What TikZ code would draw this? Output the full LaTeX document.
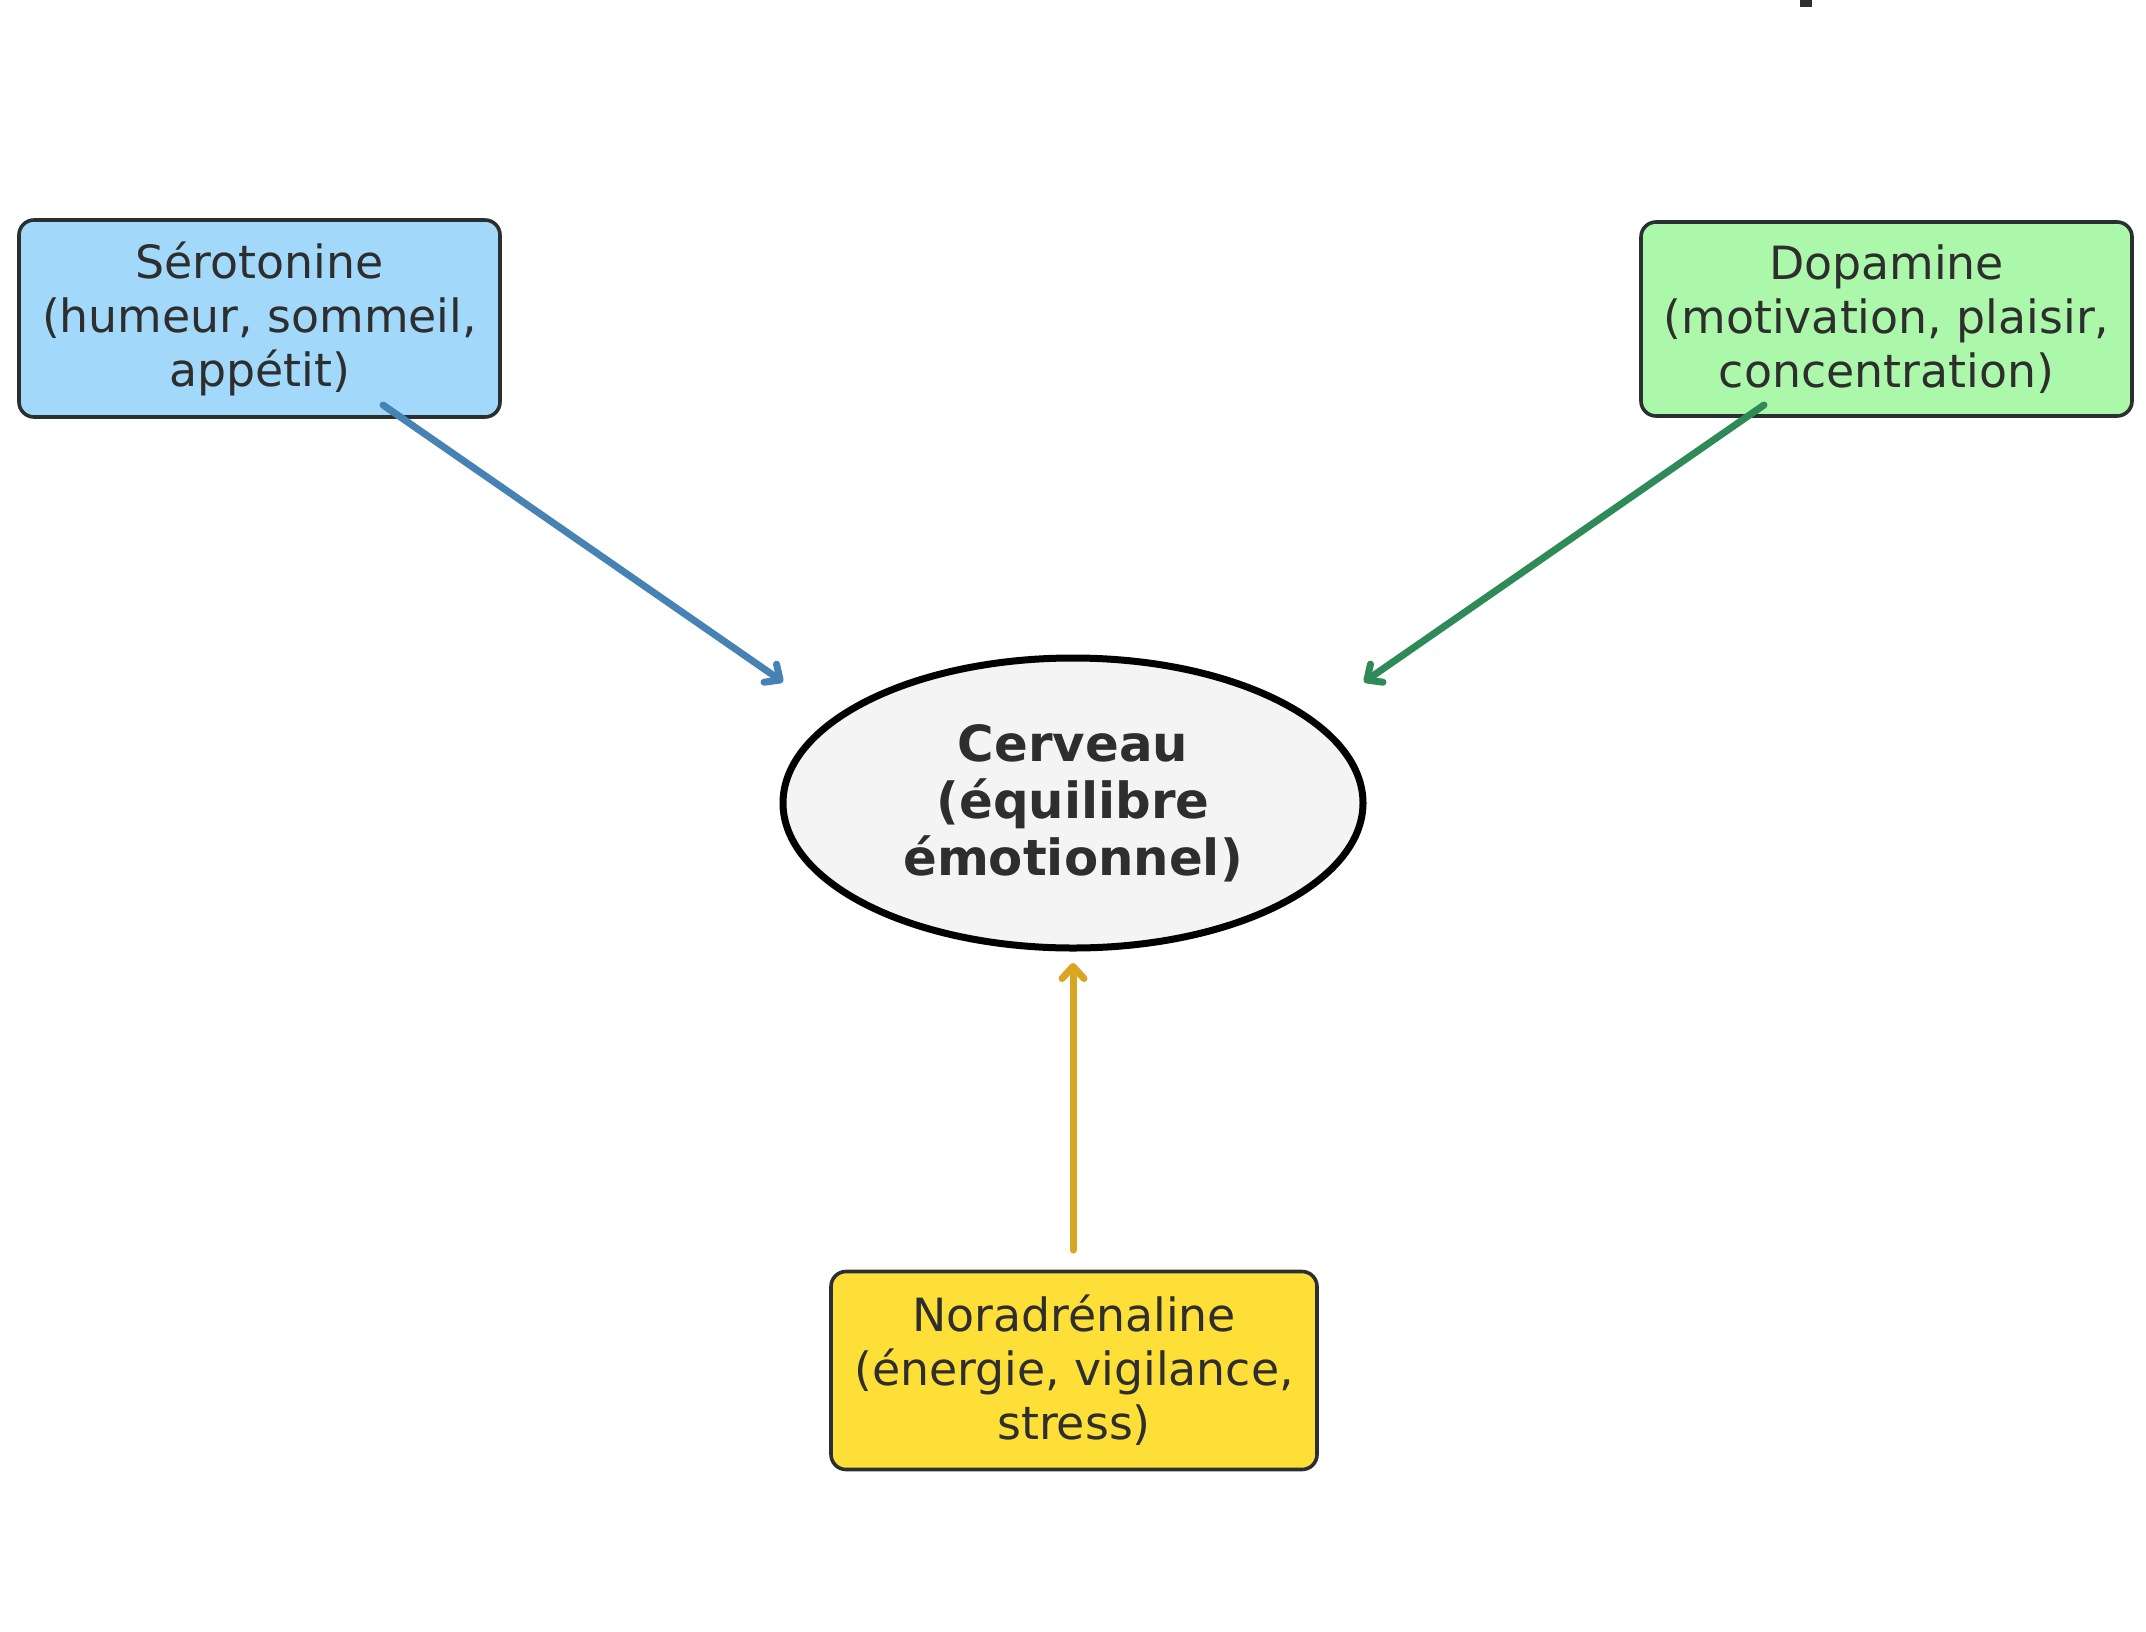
\documentclass[tikz,border=0pt]{standalone}
\usepackage{fontspec}
\setmainfont{DejaVu Sans}
\usetikzlibrary{arrows.meta,shapes.geometric}
\definecolor{txt}{HTML}{2E2E2E}
\definecolor{boxline}{HTML}{2A2F30}
\definecolor{serofill}{HTML}{A2D8F9}
\definecolor{dopafill}{HTML}{ACF8AA}
\definecolor{norafill}{HTML}{FDDF38}
\definecolor{brainfill}{HTML}{F4F4F4}
\definecolor{seroarrow}{HTML}{4682B4}
\definecolor{dopaarrow}{HTML}{2E8B57}
\definecolor{noraarrow}{HTML}{DAA520}
\begin{document}
\begin{tikzpicture}[x=0.5pt,y=-0.5pt,
  nbox/.style={draw=boxline, line width=1.8pt, rounded corners=7.5pt, align=center,
    text=txt, font=\fontsize{22.9}{27}\selectfont, inner sep=0pt},
  brain/.style={ellipse, draw=black, line width=3.5pt, fill=brainfill, align=center,
    text=txt, font=\fontsize{24.9}{28.5}\selectfont\bfseries, inner sep=0pt,
    minimum width=290pt, minimum height=145pt},
  link/.style={line width=3.5pt, line cap=round, line join=round,
    -{Straight Barb[length=6pt,width=11pt,line cap=round,line join=round]}}
]
\useasboundingbox (0,0) rectangle (2146,1632);
\fill[txt] (1800,0) rectangle (1812,7);

\node[nbox, fill=serofill, minimum width=240.5pt, minimum height=98.5pt] (sero) at (259.5,318.5)
  {Sérotonine\\(humeur, sommeil,\\appétit)};
\node[nbox, fill=dopafill, minimum width=245.5pt, minimum height=97pt] (dopa) at (1886.5,319)
  {Dopamine\\(motivation, plaisir,\\concentration)};
\node[nbox, fill=norafill, minimum width=243pt, minimum height=99pt] (nora) at (1074,1370.5)
  {Noradrénaline\\(énergie, vigilance,\\stress)};
\node[brain] (brain) at (1073,803) {Cerveau\\(équilibre\\émotionnel)};

\coordinate (s0) at (383,405);
\coordinate (s1) at (783,682);
\coordinate (d0) at (1764,405);
\coordinate (d1) at (1364,682);
\coordinate (n0) at (1073,1250);
\coordinate (n1) at (1073,963);

\draw[link, seroarrow] (s0) -- (s1);
\draw[link, dopaarrow] (d0) -- (d1);
\draw[link, noraarrow] (n0) -- (n1);
\end{tikzpicture}
\end{document}
